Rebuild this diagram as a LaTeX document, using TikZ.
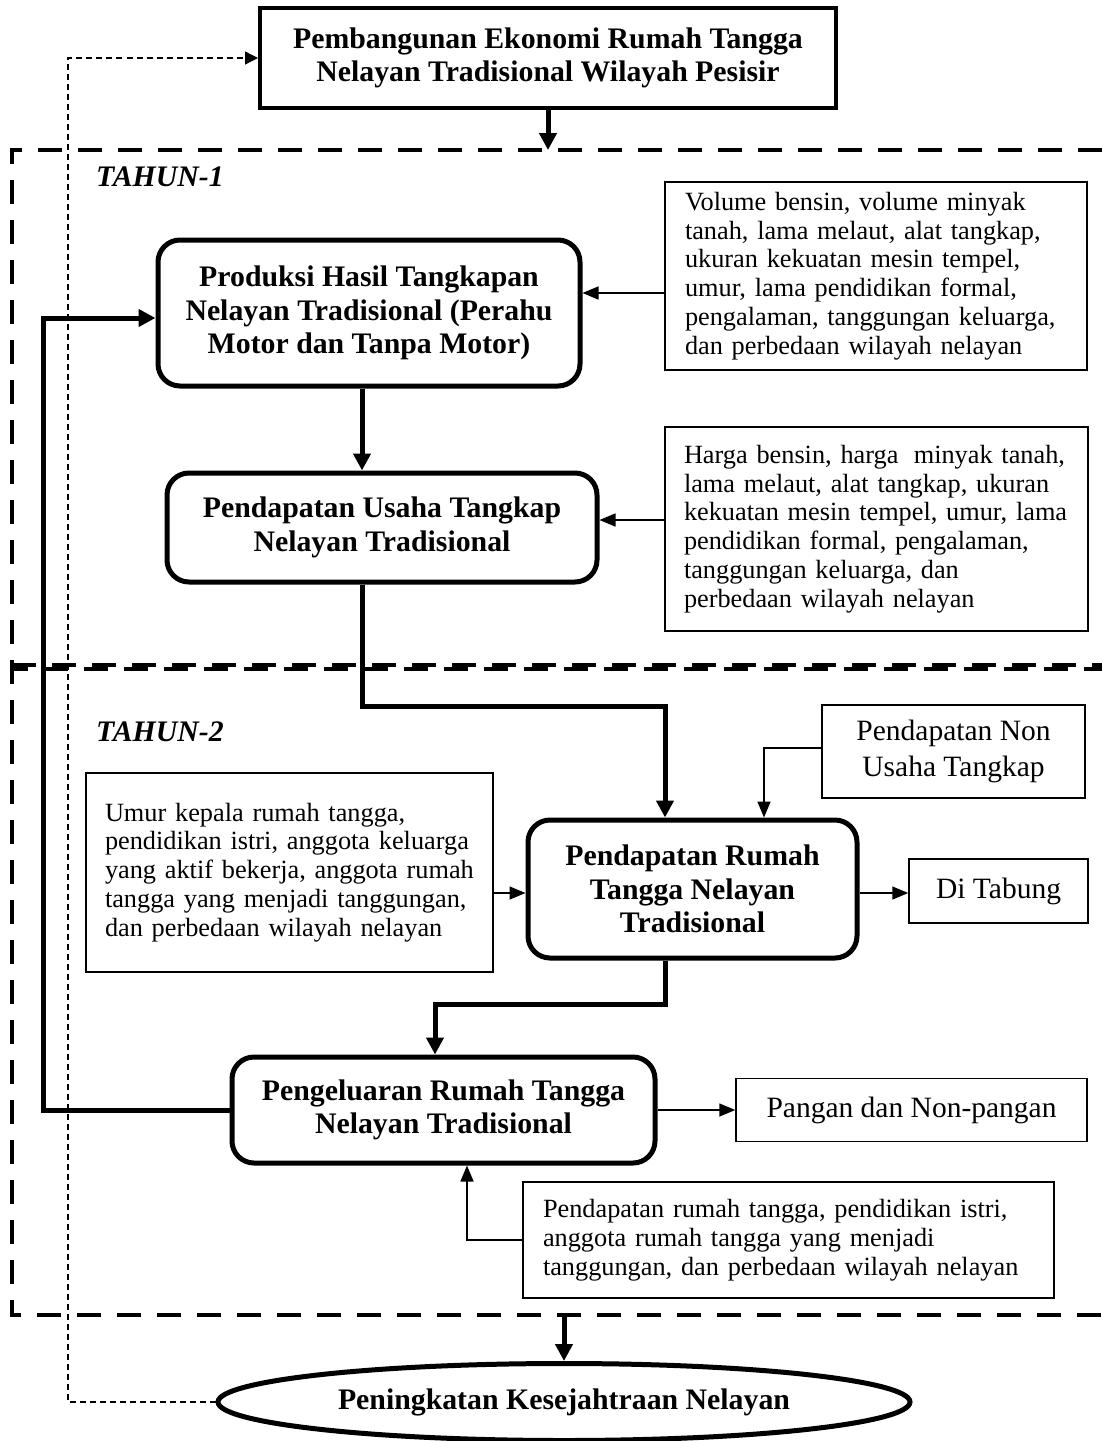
\documentclass[tikz,border=0pt]{standalone}
\usepackage{fontspec}
\setmainfont{Liberation Serif}
\usetikzlibrary{arrows.meta,shapes.geometric,calc}
\newcommand{\MyBold}{\fontsize{29.8}{33.5}\selectfont\bfseries}
\newcommand{\MyReg}{\fontsize{26.3}{28.8}\selectfont}
\newcommand{\MyLarge}{\fontsize{29.5}{36}\selectfont}
\tikzset{
  rbox/.style={draw, line width=5pt, rounded corners=22pt, align=center, font=\MyBold, inner sep=0pt},
  tbox/.style={draw, line width=4pt, align=center, font=\MyBold, inner sep=0pt},
  inbox/.style={draw, line width=1.5pt, align=left, font=\MyReg, inner xsep=20pt, inner ysep=0pt},
  sbox/.style={draw, line width=1.5pt, align=center, font=\MyLarge, inner sep=0pt},
  thk/.style={line width=5pt, -{Triangle[length=17pt,width=17pt]}},
  thn/.style={line width=1.5pt, -{Triangle[length=16pt,width=13pt]}},
  dotl/.style={line width=1.3pt, dash pattern=on 6pt off 4pt, -{Triangle[length=13pt,width=13pt]}},
  frame/.style={line width=4pt, dash pattern=on 24pt off 16pt},
  lbl/.style={anchor=west, font=\MyBold\itshape, inner sep=0pt}
}
\begin{document}
\begin{tikzpicture}[x=1pt,y=-1pt]
\useasboundingbox (0,0) rectangle (1102,1441);
\fill[white] (0,0) rectangle (1102,1441);

% dashed frames
\draw[frame] (1102,150) -- (12,150) -- (12,1315) -- (1102,1315);
\draw[frame] (12,665) -- (1102,665);
\draw[frame, dash phase=8pt] (12,669) -- (1102,669);

\node[lbl] (t1) at (96,177) {TAHUN-1};
\node[lbl] (t2) at (96,732) {TAHUN-2};

% nodes
\node[tbox, minimum width=576pt, minimum height=100pt] (title) at (548,58)
  {Pembangunan Ekonomi Rumah Tangga\\Nelayan Tradisional Wilayah Pesisir};

\node[rbox, minimum width=422pt, minimum height=146pt] (prod) at (369,313)
  {Produksi Hasil Tangkapan\\Nelayan Tradisional (Perahu\\Motor dan Tanpa Motor)};

\node[inbox, text width=382pt, minimum height=188pt] (in1) at (876,276)
  {Volume bensin, volume minyak\\tanah, lama melaut, alat tangkap,\\ukuran kekuatan mesin tempel,\\umur, lama pendidikan formal,\\pengalaman, tanggungan keluarga,\\dan perbedaan wilayah nelayan};

\node[rbox, minimum width=430pt, minimum height=109pt] (usaha) at (382,527.5)
  {Pendapatan Usaha Tangkap\\Nelayan Tradisional};

\node[inbox, text width=385pt, minimum height=204pt, inner xsep=19pt] (in2) at (876.5,529)
  {Harga bensin, harga\hspace{0.25em} minyak tanah,\\lama melaut, alat tangkap, ukuran\\kekuatan mesin tempel, umur, lama\\pendidikan formal, pengalaman,\\tanggungan keluarga, dan\\perbedaan wilayah nelayan};

\node[sbox, minimum width=263pt, minimum height=93pt] (non) at (953.5,751.5)
  {Pendapatan Non\\Usaha Tangkap};

\node[inbox, text width=369pt, minimum height=199pt, inner xsep=19pt] (left) at (289.5,872.5)
  {Umur kepala rumah tangga,\\pendidikan istri, anggota keluarga\\yang aktif bekerja, anggota rumah\\tangga yang menjadi tanggungan,\\dan perbedaan wilayah nelayan};

\node[rbox, minimum width=329pt, minimum height=138pt] (prt) at (692.5,889)
  {Pendapatan Rumah\\Tangga Nelayan\\Tradisional};

\node[sbox, minimum width=179pt, minimum height=64pt] (tabung) at (998.5,891) {Di Tabung};

\node[rbox, minimum width=423pt, minimum height=106pt] (peng) at (443.5,1110)
  {Pengeluaran Rumah Tangga\\Nelayan Tradisional};

\node[sbox, minimum width=351pt, minimum height=63pt] (pangan) at (911.5,1110) {Pangan dan Non-pangan};

\node[inbox, text width=491pt, minimum height=116pt] (in3) at (788.5,1240)
  {Pendapatan rumah tangga, pendidikan istri,\\anggota rumah tangga yang menjadi\\tanggungan, dan perbedaan wilayah nelayan};

\node[ellipse, draw, line width=5pt, minimum width=692pt, minimum height=77pt, inner sep=0pt, font=\MyBold] (goal) at (564,1402)
  {Peningkatan Kesejahtraan Nelayan};

% coordinates
\coordinate (ftop) at (548,150);
\coordinate (fbot) at (564,1315);
\coordinate (a1) at (0,293);
\coordinate (a2) at (0,520);
\coordinate (c1) at (362,706);
\coordinate (c2) at (665,706);
\coordinate (c3) at (764,748);
\coordinate (c4) at (0,893);
\coordinate (c5) at (665,1004);
\coordinate (c6) at (435,1004);
\coordinate (c7) at (467,1240);
\coordinate (fb) at (43,318);
\coordinate (d1) at (68,1402);
\coordinate (d2) at (68,58);

% connectors
\draw[thk] (title.south) -- (ftop);
\draw[thn] (in1.west |- a1) -- (prod.east |- a1);
\draw[thk] (prod.south -| c1) -- (usaha.north -| c1);
\draw[thn] (in2.west |- a2) -- (usaha.east |- a2);
\draw[thk] (usaha.south -| c1) -- (c1) -- (c2) -- (prt.north -| c2);
\draw[thn] (non.west |- c3) -- (c3) -- (prt.north -| c3);
\draw[thn] (left.east |- c4) -- (prt.west |- c4);
\draw[thn] (prt.east |- c4) -- (tabung.west |- c4);
\draw[thk] (prt.south -| c5) -- (c5) -- (c6) -- (peng.north -| c6);
\draw[thn] (peng.east) -- (pangan.west |- peng.east);
\draw[thn] (in3.west) -- (c7) -- (peng.south -| c7);
\draw[thk] (peng.west) -| (fb) -- (prod.west |- fb);
\draw[thk] (fbot) -- (goal.north);
\draw[dotl] (goal.west) -- (d1) -- (d2) -- (title.west);
\end{tikzpicture}
\end{document}
